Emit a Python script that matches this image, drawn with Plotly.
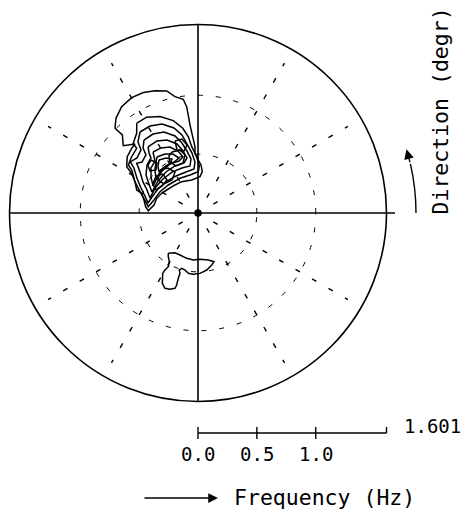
import plotly.graph_objects as go

# ------------------------------------------------------------------
# Directional wave spectrum: contour lines in (direction, frequency)
# direction in degrees, counter-clockwise from east; frequency in Hz
# ------------------------------------------------------------------
F_MAX = 1.601

c1_dir = [134.4, 130.9, 125.7, 119.9, 114.4, 109.4, 104.4, 101.2, 97.4, 96.1, 95.7, 95.2, 94.0,
          92.6, 92.9, 89.7, 86.4, 84.1, 86.8, 100.8, 117.5, 129.4, 143.7, 151.5, 160.4, 169.7,
          177.4, 173.1, 166.5, 160.7, 159.4, 153.6, 149.1, 147.0, 141.5, 135.7, 132.4, 138.0, 134.1]
c1_freq = [1.008, 1.064, 1.112, 1.130, 1.123, 1.101, 1.070, 1.007, 0.974, 0.908, 0.837, 0.751, 0.650,
           0.564, 0.508, 0.450, 0.409, 0.353, 0.309, 0.285, 0.300, 0.308, 0.330, 0.351, 0.372, 0.380,
           0.423, 0.448, 0.472, 0.507, 0.556, 0.598, 0.657, 0.722, 0.768, 0.787, 0.794, 0.854, 0.923]

c2_dir = [124.3, 118.2, 111.5, 105.0, 100.2, 97.2, 95.4, 91.3, 88.4, 89.6, 101.9, 117.4, 136.7,
          150.7, 163.5, 172.8, 167.8, 159.8, 153.6, 147.0, 145.4, 139.7, 133.5, 132.9, 127.6]
c2_freq = [0.923, 0.923, 0.880, 0.812, 0.731, 0.653, 0.566, 0.478, 0.399, 0.351, 0.330, 0.332, 0.347,
           0.370, 0.390, 0.426, 0.455, 0.525, 0.598, 0.671, 0.719, 0.739, 0.757, 0.808, 0.854]

c3_dir = [125.6, 118.9, 112.0, 105.8, 101.6, 99.1, 95.7, 93.4, 95.2, 106.3, 120.7, 135.9, 149.0,
          160.8, 168.7, 162.2, 156.3, 150.2, 144.9, 143.0, 138.0, 132.1, 130.2]
c3_freq = [0.846, 0.844, 0.816, 0.750, 0.677, 0.594, 0.512, 0.434, 0.375, 0.363, 0.366, 0.379, 0.396,
           0.414, 0.433, 0.473, 0.529, 0.598, 0.665, 0.720, 0.698, 0.722, 0.790]

c4_dir = [126.5, 119.7, 112.8, 106.6, 102.9, 100.1, 97.4, 99.7, 109.6, 122.4, 135.8, 148.2, 162.6,
          155.7, 150.6, 144.7, 141.0, 137.7, 131.9, 130.2]
c4_freq = [0.771, 0.772, 0.746, 0.683, 0.610, 0.535, 0.463, 0.405, 0.406, 0.412, 0.415, 0.420, 0.427,
           0.475, 0.536, 0.603, 0.670, 0.643, 0.662, 0.723]

c5_dir = [127.1, 119.7, 113.0, 106.9, 103.6, 101.3, 105.6, 116.1, 128.0, 141.3, 155.5, 149.4, 143.8,
          136.7, 130.5, 129.2]
c5_freq = [0.703, 0.704, 0.674, 0.613, 0.542, 0.477, 0.441, 0.445, 0.442, 0.435, 0.430, 0.484, 0.547,
           0.595, 0.615, 0.658]

c6_dir = [126.4, 119.6, 113.0, 107.9, 105.0, 110.1, 119.7, 130.6, 141.8, 149.0, 142.5, 136.2, 129.6]
c6_freq = [0.644, 0.636, 0.609, 0.553, 0.493, 0.470, 0.480, 0.470, 0.454, 0.446, 0.503, 0.553, 0.573]

c7_dir = [126.2, 119.2, 113.0, 109.1, 115.2, 124.2, 133.5, 141.0, 135.0, 129.5]
c7_freq = [0.590, 0.574, 0.544, 0.494, 0.479, 0.483, 0.469, 0.459, 0.517, 0.561]

c8_dir = [126.3, 120.2, 115.7, 119.7, 127.9, 133.6, 130.4]
c8_freq = [0.559, 0.541, 0.509, 0.480, 0.484, 0.481, 0.524]

c9_dir = [113.1, 105.9, 102.6, 106.7, 115.1, 118.8, 117.0]
c9_freq = [0.563, 0.557, 0.505, 0.443, 0.441, 0.494, 0.543]

c10_dir = [138.6, 131.9, 133.2, 143.1, 151.3, 147.2]
c10_freq = [0.475, 0.445, 0.385, 0.382, 0.407, 0.455]

c11_dir = [131.5, 123.7, 119.3, 128.2, 139.5, 140.5]
c11_freq = [0.487, 0.459, 0.399, 0.357, 0.380, 0.441]

c12_dir = [107.7, 102.2, 99.2, 102.7, 108.4]
c12_freq = [0.642, 0.643, 0.585, 0.540, 0.564]

c13_dir = [131.6, 129.4, 134.3, 138.8, 136.2]
c13_freq = [0.602, 0.549, 0.511, 0.542, 0.589]

# secondary (southern) lobe
s1_dir = [233.6, 239.9, 246.8, 256.0, 264.3, 272.5, 282.4, 288.2, 284.8, 278.7, 271.9, 265.6, 260.9,
          257.2, 253.6, 251.8, 253.4, 253.2, 253.5, 253.0, 249.9, 246.3, 243.1, 239.7, 239.9, 241.1,
          239.5, 235.8]
s1_freq = [0.425, 0.390, 0.388, 0.397, 0.401, 0.394, 0.409, 0.436, 0.457, 0.490, 0.513, 0.522, 0.519,
           0.497, 0.490, 0.510, 0.535, 0.579, 0.638, 0.669, 0.690, 0.698, 0.670, 0.594, 0.560, 0.521,
           0.480, 0.449]

contours = [(c1_dir, c1_freq), (c2_dir, c2_freq), (c3_dir, c3_freq), (c4_dir, c4_freq),
            (c5_dir, c5_freq), (c6_dir, c6_freq), (c7_dir, c7_freq), (c8_dir, c8_freq),
            (c9_dir, c9_freq), (c10_dir, c10_freq), (c11_dir, c11_freq), (c12_dir, c12_freq),
            (c13_dir, c13_freq), (s1_dir, s1_freq)]

# polar grid
ring_freqs = [0.5, 1.0]
spoke_dirs = [30, 60, 120, 150, 210, 240, 300, 330]
spoke_freqs = [0.15, 1.47]

# frequency scale bar
scale_ticks = [0.0, 0.5, 1.0]
scale_labels = ["0.0", "0.5", "1.0"]

# ------------------------------------------------------------------
W, H = 467, 518
CX, CY, RPX = 198.0, 213.0, 188.5          # centre and radius of the polar disc (px)
PX = RPX / F_MAX                            # pixels per Hz
FONT = "DejaVu Sans Mono"
INK = "black"

dom_x = [(CX - RPX) / W, (CX + RPX) / W]
dom_y = [(H - (CY + RPX)) / H, (H - (CY - RPX)) / H]

fig = go.Figure()

# dashed spokes every 30 degrees
for d in spoke_dirs:
    fig.add_trace(go.Scatterpolar(
        r=spoke_freqs, theta=[d, d], mode="lines",
        line=dict(color=INK, width=1.4, dash="5px,14px"),
        hoverinfo="skip", showlegend=False))

# contour lines
for d, f in contours:
    fig.add_trace(go.Scatterpolar(
        r=f + f[:1], theta=d + d[:1], mode="lines",
        line=dict(color=INK, width=1.5),
        hoverinfo="skip", showlegend=False))

# axis cross, centre dot and scale bar on an overlaid cartesian frame (same Hz scale)
xlo, xhi = -CX / PX, (W - CX) / PX
ybot, ytop = -(H - CY) / PX, CY / PX
ext = (395 - CX) / PX
fig.add_trace(go.Scatter(
    x=[-F_MAX, ext, None, 0, 0], y=[0, 0, None, -F_MAX, F_MAX],
    mode="lines", line=dict(color=INK, width=1.6),
    hoverinfo="skip", showlegend=False))
fig.add_trace(go.Scatter(
    x=[0], y=[0], mode="markers", marker=dict(color=INK, size=7.5),
    hoverinfo="skip", showlegend=False))

bar_y = -(433 - CY) / PX
th = 6 / PX
bx, by = [0, F_MAX], [bar_y, bar_y]
for t in scale_ticks:
    bx += [None, t, t]
    by += [None, bar_y - th, bar_y + th]
bx += [None, F_MAX, F_MAX]
by += [None, bar_y, bar_y + th]
fig.add_trace(go.Scatter(
    x=bx, y=by, mode="lines", line=dict(color=INK, width=1.4),
    hoverinfo="skip", showlegend=False))

lab_y = -(453.5 - CY) / PX
annotations = []
for t, s in zip(scale_ticks, scale_labels):
    annotations.append(dict(x=t, y=lab_y, xref="x", yref="y", text=s, showarrow=False,
                            xanchor="center", yanchor="middle",
                            font=dict(family=FONT, size=19, color=INK)))
annotations.append(dict(x=(402 - CX) / PX, y=-(426 - CY) / PX, xref="x", yref="y",
                        text=f"{F_MAX:.3f}", showarrow=False, xanchor="left", yanchor="middle",
                        font=dict(family=FONT, size=19, color=INK)))

# axis titles with their arrows
annotations.append(dict(x=232 / W, y=1 - 497 / H, xref="paper", yref="paper",
                        text="Frequency (Hz)", showarrow=False, xanchor="left", yanchor="middle",
                        font=dict(family=FONT, size=21.5, color=INK)))
annotations.append(dict(x=218 / W, y=1 - 498 / H, xref="paper", yref="paper", text="",
                        showarrow=True, ax=-75, ay=0, arrowhead=2, arrowsize=1.5,
                        arrowwidth=1.3, arrowcolor=INK))
annotations.append(dict(x=440 / W, y=1 - 111.5 / H, xref="paper", yref="paper",
                        text="Direction (degr)", textangle=-90, showarrow=False,
                        xanchor="center", yanchor="middle",
                        font=dict(family=FONT, size=21.5, color=INK)))

R_ARC = 218 / PX
annotations.append(dict(x=R_ARC * 0.9563, y=R_ARC * 0.2924, xref="x", yref="y", text="",
                        showarrow=True, ax=R_ARC * 0.9744, ay=R_ARC * 0.2250,
                        axref="x", ayref="y", arrowhead=2, arrowsize=1.5,
                        arrowwidth=1.3, arrowcolor=INK))
shapes = [dict(type="path", xref="x", yref="y",
               path=f"M {R_ARC},0 Q {R_ARC},{R_ARC * 0.1139} {R_ARC * 0.9744},{R_ARC * 0.2250}",
               line=dict(color=INK, width=1.4))]

fig.update_layout(
    width=W, height=H, autosize=False,
    margin=dict(l=0, r=0, t=0, b=0, pad=0),
    paper_bgcolor="white", plot_bgcolor="rgba(0,0,0,0)",
    showlegend=False,
    polar=dict(
        domain=dict(x=dom_x, y=dom_y),
        bgcolor="rgba(0,0,0,0)",
        angularaxis=dict(rotation=0, direction="counterclockwise", showgrid=False,
                         showticklabels=False, ticks="", showline=True,
                         linecolor=INK, linewidth=1.6),
        radialaxis=dict(range=[0, F_MAX], tickvals=ring_freqs, showticklabels=False,
                        ticks="", showline=False, showgrid=True, gridcolor=INK,
                        gridwidth=1.4, griddash="5px,13px"),
    ),
    xaxis=dict(domain=[0, 1], range=[xlo, xhi], visible=False, fixedrange=True),
    yaxis=dict(domain=[0, 1], range=[ybot, ytop], visible=False, fixedrange=True),
    annotations=annotations,
    shapes=shapes,
)

fig.write_html("out.html", config={"displayModeBar": False})
